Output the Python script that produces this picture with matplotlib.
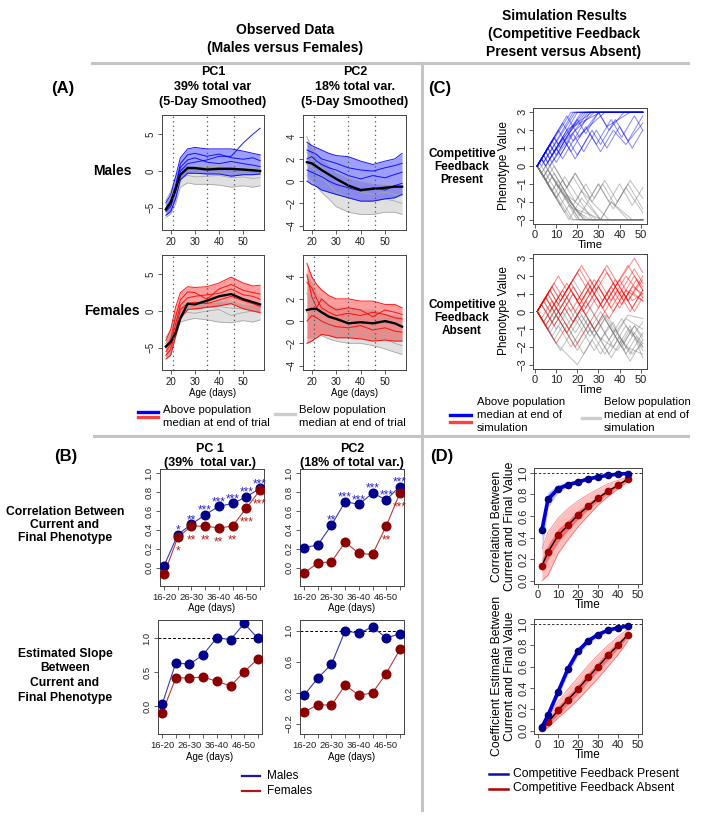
import matplotlib
matplotlib.use("Agg")
import matplotlib.pyplot as plt
from matplotlib.lines import Line2D

plt.rcParams["font.family"] = ["Liberation Sans", "DejaVu Sans"]

FIG_W, FIG_H = 704, 816
NARROW = ["Liberation Sans Narrow", "Liberation Sans", "DejaVu Sans"]

BLUE = "#0000ff"
RED = "#ff0000"
GREY = "#a8a8a8"
NAVY = "#00008b"
DARKRED = "#8b0000"
RULE = "#c4c4c4"

AGE_GRID = [18, 20, 22, 24, 27, 30, 35, 40, 45, 50, 54, 57]
SPLIT_DAYS = [21, 35, 46]

# in every group the first two rows are the lower / upper envelope
PC1_MALE_ABOVE = [
    [-6.0, -5.5, -3.8, -1.2, -0.3, -0.3, -0.4, -0.4, -0.7, -0.5, -0.5, -0.4],
    [-4.3, -3.2, -0.8, 1.8, 3.0, 3.2, 3.0, 3.0, 3.0, 2.7, 2.4, 2.2],
    [-5.0, -4.0, -2.0, 0.5, 1.5, 1.8, 1.2, 1.0, 1.3, 1.0, 0.8, 0.6],
    [-5.5, -4.8, -2.8, 0.0, 1.0, 1.2, 1.5, 2.0, 2.0, 3.8, 5.0, 5.8],
    [-5.2, -4.4, -2.2, 1.0, 2.2, 2.4, 2.0, 2.3, 1.8, 1.6, 1.8, 1.4],
]
PC1_MALE_BELOW = [
    [-6.3, -5.8, -4.5, -2.2, -1.6, -1.8, -1.8, -1.9, -2.2, -2.0, -2.2, -2.0],
    [-4.0, -2.8, -0.8, 0.5, 0.8, 0.7, 0.6, 0.6, 0.4, 0.4, 0.3, 0.4],
    [-5.4, -4.6, -3.0, -1.0, -0.6, -0.8, -0.7, -0.6, -0.9, -0.8, -1.0, -0.9],
    [-4.6, -3.6, -1.6, -0.2, 0.2, -0.2, 0.0, -0.2, -0.3, -0.2, -0.4, -0.2],
]
PC1_MALE_MEDIAN = [-5.2, -4.3, -2.5, -0.5, 0.4, 0.4, 0.2, 0.3, 0.3, 0.2, 0.1, 0.0]

PC2_MALE_ABOVE = [
    [0.0, -0.3, -0.5, -0.8, -1.0, -1.2, -1.5, -1.8, -1.8, -1.6, -1.5, -1.2],
    [3.5, 3.2, 3.0, 2.8, 2.5, 2.3, 2.2, 1.8, 1.5, 1.8, 2.0, 2.5],
    [2.0, 2.2, 1.8, 1.5, 1.2, 1.0, 0.5, 0.2, 0.5, 0.3, 0.6, 0.8],
    [1.0, 0.8, 0.6, 0.4, 0.0, -0.3, -0.6, -0.9, -0.6, -0.8, -0.4, -0.2],
    [2.8, 2.6, 2.4, 2.0, 1.8, 1.6, 1.2, 1.0, 0.9, 1.2, 1.4, 1.6],
]
PC2_MALE_BELOW = [
    [0.5, 0.0, -0.5, -1.0, -1.6, -2.3, -2.8, -3.0, -3.0, -2.8, -2.8, -3.0],
    [4.0, 3.0, 2.5, 2.0, 1.5, 0.8, 0.3, 0.0, -0.2, -0.3, -0.4, -0.5],
    [1.5, 1.2, 0.8, 0.3, -0.3, -1.0, -1.5, -1.8, -1.8, -1.6, -1.8, -2.0],
    [2.6, 2.0, 1.6, 1.2, 0.6, 0.0, -0.6, -1.0, -1.2, -1.0, -1.2, -1.3],
]
PC2_MALE_MEDIAN = [1.7, 1.6, 1.3, 1.0, 0.6, 0.2, -0.4, -0.8, -0.7, -0.6, -0.5, -0.5]

PC1_FEMALE_ABOVE = [
    [-6.5, -6.0, -3.5, -1.0, 0.2, 0.3, 0.5, 0.7, 1.0, 0.3, 0.0, -0.2],
    [-4.0, -2.5, 0.5, 2.5, 3.3, 3.2, 3.3, 3.8, 4.6, 3.8, 3.4, 3.5],
    [-5.5, -4.5, -1.8, 0.8, 1.8, 2.0, 2.2, 2.4, 3.0, 2.2, 2.0, 1.6],
    [-5.0, -3.8, -0.8, 1.5, 2.6, 2.5, 1.6, 3.0, 3.6, 2.8, 2.5, 2.3],
    [-6.0, -5.2, -2.6, 0.2, 1.0, 1.2, 1.0, 1.5, 2.0, 1.4, 1.0, 0.6],
]
PC1_FEMALE_BELOW = [
    [-6.2, -5.6, -3.5, -1.5, -1.2, -1.0, -1.2, -1.5, -1.6, -1.3, -1.5, -1.2],
    [-3.6, -2.5, -0.5, 0.8, 1.0, 0.8, 1.0, 1.2, 1.2, 0.8, 0.8, 0.7],
    [-5.0, -4.2, -2.0, -0.5, -0.2, -0.3, 0.0, 0.2, -0.6, -0.2, 0.0, -0.3],
    [-4.4, -3.4, -1.2, 0.2, 0.4, 0.2, 0.5, 0.6, 0.4, 0.3, 0.4, 0.2],
]
PC1_FEMALE_MEDIAN = [-4.8, -4.2, -3.0, -1.0, 1.0, 0.9, 1.4, 2.0, 2.3, 1.6, 1.2, 0.9]

PC2_FEMALE_ABOVE = [
    [-2.0, -1.8, -1.5, -1.2, -1.3, -1.5, -1.5, -1.6, -1.8, -1.7, -1.8, -1.8],
    [5.2, 4.0, 3.3, 2.8, 2.3, 2.0, 2.0, 1.8, 1.8, 1.5, 1.5, 1.2],
    [3.5, 3.0, 2.0, 1.2, 0.8, 0.5, 0.7, 0.5, 0.8, 0.6, 0.3, 0.2],
    [0.0, 0.5, 0.3, 0.0, -0.3, -0.5, -0.6, -0.4, -0.8, -0.6, -0.9, -1.0],
    [4.2, 2.2, 1.2, 2.0, 1.4, 1.0, 1.2, 1.0, 0.4, 1.0, 0.8, 0.6],
]
PC2_FEMALE_BELOW = [
    [-1.5, -1.5, -1.3, -1.3, -1.6, -1.8, -2.0, -2.0, -2.2, -2.5, -2.8, -3.0],
    [4.0, 3.5, 2.5, 2.0, 1.5, 1.2, 1.2, 1.0, 1.0, 0.6, 0.5, 0.4],
    [2.5, 1.8, 1.0, 0.4, -0.2, -0.5, -0.6, -0.8, -0.6, -1.0, -1.4, -1.6],
    [0.8, 0.6, 0.2, -0.2, -0.6, -1.0, -1.2, -1.1, -1.4, -1.6, -2.0, -2.2],
]
PC2_FEMALE_MEDIAN = [1.0, 1.1, 1.1, 0.8, 0.4, 0.2, -0.2, -0.1, -0.2, 0.0, -0.2, -0.5]

# ---- Panel B: correlation / slope between current and final phenotype ----
AGE_BINS = ["16-20", "21-25", "26-30", "31-35", "36-40", "41-45", "46-50", "51-55"]
CORR_PC1_MALES = [0.02, 0.35, 0.46, 0.56, 0.65, 0.68, 0.75, 0.84]
CORR_PC1_FEMALES = [-0.07, 0.32, 0.44, 0.44, 0.42, 0.44, 0.63, 0.82]
CORR_PC2_MALES = [0.21, 0.24, 0.45, 0.70, 0.67, 0.79, 0.72, 0.86]
CORR_PC2_FEMALES = [-0.06, 0.05, 0.06, 0.27, 0.15, 0.14, 0.44, 0.79]
STARS_PC1_MALES = ["", "*", "**", "***", "***", "***", "***", "***"]
STARS_PC1_FEMALES = ["", "*", "**", "**", "**", "**", "***", "***"]
STARS_PC2_MALES = ["", "", "**", "***", "***", "***", "***", "***"]
STARS_PC2_FEMALES = ["", "", "", "", "", "", "**", "***"]
SLOPE_PC1_MALES = [0.03, 0.64, 0.62, 0.76, 1.01, 0.98, 1.22, 1.00]
SLOPE_PC1_FEMALES = [-0.10, 0.42, 0.42, 0.43, 0.37, 0.30, 0.51, 0.70]
SLOPE_PC2_MALES = [0.17, 0.39, 0.57, 1.00, 0.97, 1.05, 0.91, 0.96]
SLOPE_PC2_FEMALES = [-0.05, 0.05, 0.04, 0.30, 0.17, 0.20, 0.45, 0.76]

# ---- Panel C: simulated walks, as (times, values) at turning points ----
PRESENT_ABOVE = [
    ([1, 17, 51], [0, 3, 3]),
    ([1, 3, 4, 19, 51], [0, 0.4, 0.2, 3, 3]),
    ([1, 7, 9, 22, 51], [0, 1.2, 0.8, 3, 3]),
    ([1, 5, 8, 25, 51], [0, 0.8, 0.2, 3, 3]),
    ([1, 11, 14, 28, 51], [0, 2.0, 1.4, 3, 3]),
    ([1, 4, 6, 15, 18, 33, 51], [0, 0.6, 0.2, 2.0, 1.4, 3, 3]),
    ([1, 9, 12, 20, 24, 30, 35, 42, 51], [0, 1.6, 1.0, 2.6, 1.8, 3.0, 2.0, 3.0, 3.0]),
    ([1, 6, 10, 16, 20, 27, 31, 38, 44, 51], [0, 1.0, 0.2, 1.4, 0.6, 2.0, 1.2, 2.6, 1.4, 2.8]),
    ([1, 3, 5, 13, 17, 24, 29, 36, 41, 47, 51], [0, 0.4, 0, 1.6, 0.8, 2.2, 1.2, 2.6, 1.6, 2.8, 2.0]),
    ([1, 8, 12, 18, 23, 29, 34, 40, 46, 51], [0, 1.4, 0.6, 1.8, 0.8, 2.0, 1.0, 2.2, 1.0, 2.0]),
    ([1, 13, 15, 27, 51], [0, 2.4, 2.0, 3, 3]),
    ([1, 5, 7, 20, 51], [0, 0.8, 0.4, 3, 3]),
    ([1, 9, 11, 23, 51], [0, 1.6, 1.2, 3, 3]),
    ([1, 3, 5, 10, 13, 26, 51], [0, 0.4, 0, 1.0, 0.4, 3, 3]),
    ([1, 7, 10, 18, 21, 30, 34, 45, 51], [0, 1.2, 0.6, 2.2, 1.6, 3.0, 2.2, 3.0, 3.0]),
    ([1, 4, 7, 14, 19, 26, 31, 37, 43, 51], [0, 0.6, 0, 1.4, 0.4, 1.8, 0.8, 2.0, 1.2, 2.4]),
    ([1, 15, 18, 31, 51], [0, 2.8, 2.2, 3, 3]),
    ([1, 6, 8, 24, 51], [0, 1.0, 0.6, 3, 3]),
    ([1, 2, 3, 18, 51], [0, 0.2, 0, 3, 3]),
]
PRESENT_BELOW = [
    ([1, 17, 51], [0, -3, -3]),
    ([1, 4, 6, 20, 51], [0, -0.6, -0.2, -3, -3]),
    ([1, 8, 10, 23, 51], [0, -1.4, -1.0, -3, -3]),
    ([1, 3, 5, 21, 51], [0, -0.4, 0, -3, -3]),
    ([1, 12, 15, 29, 51], [0, -2.2, -1.6, -3, -3]),
    ([1, 6, 9, 18, 22, 35, 51], [0, -1.0, -0.4, -2.2, -1.4, -3, -3]),
    ([1, 10, 13, 21, 25, 31, 36, 44, 51], [0, -1.8, -1.2, -2.8, -2.0, -3.0, -2.0, -3.0, -3.0]),
    ([1, 5, 9, 15, 19, 26, 30, 37, 43, 51], [0, -0.8, 0, -1.2, -0.4, -1.8, -1.0, -2.4, -1.2, -2.6]),
    ([1, 4, 7, 14, 18, 25, 30, 35, 40, 46, 51], [0, -0.6, 0, -1.4, -0.6, -2.0, -1.0, -2.0, -1.0, -2.2, -1.2]),
    ([1, 9, 13, 19, 24, 28, 33, 39, 45, 51], [0, -1.6, -0.8, -2.0, -1.0, -1.8, -0.8, -2.0, -0.8, -1.8]),
    ([1, 14, 16, 26, 51], [0, -2.6, -2.2, -3, -3]),
    ([1, 6, 8, 21, 51], [0, -1.0, -0.6, -3, -3]),
    ([1, 10, 12, 24, 51], [0, -1.8, -1.4, -3, -3]),
    ([1, 3, 5, 11, 14, 27, 51], [0, -0.4, 0, -1.2, -0.6, -3, -3]),
    ([1, 8, 11, 19, 22, 31, 36, 46, 51], [0, -1.4, -0.8, -2.4, -1.8, -3.0, -2.0, -3.0, -3.0]),
    ([1, 4, 8, 15, 19, 27, 32, 38, 44, 51], [0, -0.6, 0.2, -1.2, -0.4, -2.0, -1.0, -2.2, -1.0, -2.4]),
    ([1, 16, 19, 32, 51], [0, -3.0, -2.4, -3, -3]),
    ([1, 5, 7, 23, 51], [0, -0.8, -0.4, -3, -3]),
    ([1, 2, 3, 18, 51], [0, -0.2, 0, -3, -3]),
]
ABSENT_ABOVE = [
    ([1, 9, 13, 20, 26, 33, 40, 47, 51], [0, 1.6, 0.8, 2.2, 1.0, 2.4, 1.0, 2.4, 1.6]),
    ([1, 5, 10, 16, 22, 30, 36, 43, 51], [0, -0.8, 0.2, -1.0, 0.2, 1.8, 0.6, 2.0, 0.8]),
    ([1, 6, 11, 17, 24, 29, 35, 42, 46, 51], [0, 1.0, 0, 1.2, -0.2, 0.8, -0.4, 1.0, 0.2, 1.2]),
    ([1, 4, 12, 17, 25, 32, 38, 47, 51], [0, -0.6, 1.0, 0, 1.6, 0.2, 1.4, 3.0, 2.2]),
    ([1, 3, 9, 14, 18, 27, 31, 38, 44, 51], [0, 0.4, -0.8, 0.2, -0.6, 1.2, 0.4, 1.8, 0.6, 2.0]),
    ([1, 10, 14, 19, 23, 28, 35, 40, 45, 51], [0, -1.8, -1.0, -2.0, -1.2, -0.2, 1.2, 0.2, 1.2, 0.6]),
    ([1, 8, 12, 21, 27, 34, 39, 44, 51], [0, 1.4, 0.6, 2.4, 1.2, 2.6, 1.6, 2.6, 1.2]),
    ([1, 5, 8, 15, 20, 26, 32, 37, 42, 48, 51], [0, 0.8, 0.2, 1.6, 0.6, 1.8, 0.6, 1.6, 0.6, 1.8, 1.2]),
    ([1, 7, 12, 18, 24, 30, 36, 41, 47, 51], [0, 1.2, 0.2, 1.4, 0.2, 1.4, 0.2, 1.2, 0.0, 0.8]),
    ([1, 4, 7, 13, 19, 25, 30, 36, 41, 46, 51], [0, 0.6, 0, 1.2, 0, 1.2, 0.2, 1.4, 0.4, 1.4, 1.0]),
    ([1, 6, 10, 15, 22, 28, 33, 39, 45, 51], [0, -1.0, -0.2, -1.2, 0.2, -1.0, 0.0, 1.2, 0.0, 1.2]),
    ([1, 11, 15, 22, 29, 34, 41, 47, 51], [0, 2.0, 1.2, 2.6, 1.2, 2.2, 0.8, 2.0, 1.4]),
    ([1, 3, 8, 12, 18, 23, 30, 37, 43, 51], [0, -0.4, 0.6, -0.2, 1.0, 0.0, 1.4, 0.0, 1.2, 0.6]),
    ([1, 7, 11, 16, 21, 26, 32, 39, 44, 51], [0, 1.2, 0.4, 1.4, 0.4, 1.4, 0.2, 1.6, 0.6, 1.8]),
    ([1, 5, 9, 17, 22, 28, 34, 40, 46, 51], [0, 0.8, 0.0, 1.6, 0.6, 1.8, 0.6, 1.8, 0.6, 1.0]),
]
ABSENT_BELOW = [
    ([1, 9, 14, 20, 26, 30, 36, 41, 45, 51], [0, -1.6, -0.6, -1.8, -0.6, -1.4, -2.6, -1.6, -2.4, -1.2]),
    ([1, 5, 10, 20, 26, 33, 38, 45, 51], [0, 0.8, -0.2, -2.2, -1.0, -2.4, -1.4, -2.8, -1.6]),
    ([1, 10, 20, 27, 31, 38, 43, 51], [0, -1.8, -3.0, -1.6, -2.4, -1.0, -2.0, -2.4]),
    ([1, 6, 12, 18, 23, 29, 34, 42, 47, 51], [0, 1.0, -0.2, 1.0, 0, -1.2, -0.2, -1.8, -0.8, -1.6]),
    ([1, 4, 8, 15, 21, 27, 33, 38, 44, 51], [0, -0.6, 0.2, -1.2, 0, -1.2, -0.2, -1.2, -0.2, -0.4]),
    ([1, 7, 13, 19, 24, 30, 39, 45, 51], [0, -1.2, 0, -1.2, -0.2, -1.4, -2.2, -1.0, -2.2]),
    ([1, 3, 10, 16, 22, 28, 35, 41, 47, 51], [0, 0.4, -1.0, 0.2, -1.0, -2.2, -0.8, -2.0, -0.8, -1.4]),
    ([1, 8, 11, 17, 25, 31, 37, 43, 48, 51], [0, -1.4, -0.8, -2.0, -0.4, -1.6, -0.6, -2.4, -1.4, -2.0]),
    ([1, 5, 9, 14, 19, 25, 31, 36, 42, 47, 51], [0, -0.8, 0.0, -1.0, 0.0, -1.2, 0.0, -1.0, -2.2, -1.2, -1.8]),
    ([1, 8, 12, 18, 24, 29, 35, 41, 46, 51], [0, 1.4, 0.6, 1.8, 0.6, -0.4, -1.6, -0.4, -1.4, -0.6]),
    ([1, 6, 11, 17, 22, 28, 33, 40, 45, 51], [0, -1.0, 0, -1.2, -0.2, -1.4, -0.4, -1.8, -0.8, -2.6]),
    ([1, 4, 9, 15, 20, 26, 32, 38, 43, 51], [0, 0.6, -0.4, 0.8, -0.2, -1.4, -0.2, -1.4, -0.4, -1.0]),
    ([1, 12, 17, 23, 29, 35, 40, 46, 51], [0, -2.2, -1.2, -2.4, -1.2, -2.4, -1.4, -2.4, -1.8]),
    ([1, 3, 8, 13, 18, 24, 30, 37, 43, 51], [0, 0.4, -0.6, 0.4, -0.6, 0.6, -0.6, -2.0, -0.8, -2.0]),
]

# ---- Panel D: correlation / coefficient over simulated time ----
SIM_TIMES = [2, 5, 10, 15, 20, 25, 30, 35, 40, 45]
CORR_PRESENT = [0.475, 0.756, 0.853, 0.89, 0.915, 0.944, 0.962, 0.978, 0.988, 0.994]
CORR_PRESENT_OUTER = ([0.28, 0.68, 0.82, 0.87, 0.90, 0.93, 0.95, 0.97, 0.98, 0.99],
                      [0.55, 0.82, 0.89, 0.915, 0.935, 0.955, 0.972, 0.985, 0.993, 0.998])
CORR_PRESENT_INNER = ([0.42, 0.73, 0.84, 0.88, 0.91, 0.94, 0.96, 0.975, 0.985, 0.992],
                      [0.52, 0.78, 0.87, 0.90, 0.925, 0.95, 0.967, 0.982, 0.99, 0.996])
CORR_ABSENT = [0.14, 0.265, 0.42, 0.515, 0.61, 0.69, 0.765, 0.83, 0.885, 0.945]
CORR_ABSENT_OUTER = ([0.0, 0.05, 0.25, 0.38, 0.50, 0.60, 0.70, 0.78, 0.85, 0.92],
                     [0.30, 0.45, 0.58, 0.67, 0.74, 0.80, 0.85, 0.90, 0.93, 0.965])
CORR_ABSENT_INNER = ([0.08, 0.20, 0.36, 0.47, 0.57, 0.66, 0.74, 0.81, 0.87, 0.935],
                     [0.20, 0.33, 0.48, 0.56, 0.65, 0.72, 0.79, 0.85, 0.90, 0.955])
COEF_PRESENT = [0.037, 0.146, 0.363, 0.58, 0.745, 0.84, 0.90, 0.94, 0.963, 0.98]
COEF_PRESENT_OUTER = ([0.01, 0.11, 0.32, 0.53, 0.71, 0.81, 0.88, 0.925, 0.95, 0.97],
                      [0.06, 0.19, 0.41, 0.63, 0.78, 0.87, 0.92, 0.955, 0.975, 0.99])
COEF_PRESENT_INNER = ([0.025, 0.13, 0.345, 0.565, 0.73, 0.83, 0.89, 0.933, 0.957, 0.975],
                      [0.05, 0.16, 0.38, 0.595, 0.76, 0.85, 0.91, 0.947, 0.969, 0.985])
COEF_ABSENT = [0.03, 0.078, 0.19, 0.29, 0.39, 0.50, 0.60, 0.705, 0.80, 0.90]
COEF_ABSENT_OUTER = ([0.0, 0.03, 0.12, 0.20, 0.29, 0.39, 0.49, 0.60, 0.71, 0.84],
                     [0.06, 0.13, 0.27, 0.39, 0.50, 0.61, 0.71, 0.80, 0.88, 0.95])
COEF_ABSENT_INNER = ([0.015, 0.055, 0.15, 0.25, 0.35, 0.46, 0.56, 0.665, 0.77, 0.88],
                     [0.045, 0.10, 0.23, 0.33, 0.43, 0.54, 0.64, 0.745, 0.83, 0.92])


fig = plt.figure(figsize=(FIG_W / 100, FIG_H / 100), dpi=100)


def px_axes(left, top, right, bottom):
    return fig.add_axes([left / FIG_W, 1 - bottom / FIG_H,
                         (right - left) / FIG_W, (bottom - top) / FIG_H])


def ftext(x, y, s, **kw):
    kw.setdefault("ha", "center")
    kw.setdefault("va", "center")
    fig.text(x / FIG_W, 1 - y / FIG_H, s, **kw)


def stack(x, ys, lines, **kw):
    for y, s in zip(ys, lines):
        ftext(x, y, s, **kw)


def fline(x0, x1, y0, y1, **kw):
    fig.add_artist(Line2D([x0 / FIG_W, x1 / FIG_W], [1 - y0 / FIG_H, 1 - y1 / FIG_H], **kw))


def r_style(ax, size, pad=1.5):
    for spine in ax.spines.values():
        spine.set_linewidth(0.7)
        spine.set_color("#444444")
    ax.tick_params(direction="out", length=3.2, width=0.6, labelsize=size,
                   pad=pad, colors="#444444", labelcolor="#222222")
    ax.tick_params(axis="y", labelrotation=90)
    for lab in ax.get_yticklabels():
        lab.set_va("center")


def draw_trajectories(ax, above, below, median, color, ylim, yticks):
    ax.fill_between(AGE_GRID, below[0], below[1], color=GREY, alpha=0.35, lw=0)
    for ys in below:
        ax.plot(AGE_GRID, ys, color=GREY, lw=0.6)
    ax.fill_between(AGE_GRID, above[0], above[1], color=color, alpha=0.38, lw=0)
    for ys in above:
        ax.plot(AGE_GRID, ys, color=color, lw=0.7, alpha=0.9)
    ax.plot(AGE_GRID, median, color="black", lw=1.7)
    for day in SPLIT_DAYS:
        ax.axvline(day, color="#555555", lw=0.9, ls=(0, (1, 2.6)))
    ax.set_xlim(16.4, 58.6)
    ax.set_ylim(*ylim)
    ax.set_xticks([20, 30, 40, 50])
    ax.set_yticks(yticks)
    r_style(ax, 7)


def draw_walks(ax, above, below, color):
    for t, v in below:
        ax.plot(t, v, color="#7a7a7a", lw=0.75, alpha=0.45)
    for t, v in above:
        ax.plot(t, v, color=color, lw=0.75, alpha=0.45)
    ax.set_xlim(-1, 53)
    ax.set_ylim(-3.24, 3.24)
    ax.set_xticks([0, 10, 20, 30, 40, 50])
    ax.set_yticks([-3, -2, -1, 0, 1, 2, 3])
    r_style(ax, 8, pad=1)


def draw_bins(ax, males, females, ylim, yticks, stars=None, ref_line=False):
    xs = list(range(1, len(AGE_BINS) + 1))
    if ref_line:
        ax.axhline(1.0, color="black", lw=0.7, ls=(0, (3, 2)))
    ax.plot(xs, males, color="#3a3ab8", lw=0.8)
    ax.plot(xs, females, color="#b83a3a", lw=0.8)
    ax.plot(xs, males, "o", color=NAVY, ms=6.2, zorder=3)
    ax.plot(xs, females, "o", color=DARKRED, ms=6.2, zorder=3)
    if stars:
        for x, y, s in zip(xs, males, stars[0]):
            ax.text(x, y + 0.045, s, ha="center", va="center", color="#2a2acc", fontsize=8.5)
        for x, y, s in zip(xs, females, stars[1]):
            ax.text(x, y - 0.15, s, ha="center", va="center", color="#b52222", fontsize=8.5)
    ax.set_xlim(0.7, 8.3)
    ax.set_ylim(*ylim)
    ax.set_xticks(xs, [lab if i % 2 == 0 else "" for i, lab in enumerate(AGE_BINS)])
    ax.set_yticks(yticks)
    r_style(ax, 6.8)


def draw_sim_curves(ax, present, p_outer, p_inner, absent, a_outer, a_inner):
    ax.axhline(1.0, color="#333333", lw=0.7, ls=(0, (2.5, 2)))
    ax.fill_between(SIM_TIMES, a_outer[0], a_outer[1], color="#ff2a2a", alpha=0.3, lw=0)
    ax.fill_between(SIM_TIMES, a_inner[0], a_inner[1], color="#ff1a1a", alpha=0.5, lw=0)
    for ys in a_outer:
        ax.plot(SIM_TIMES, ys, color="#ff4040", lw=0.5, alpha=0.7)
    ax.fill_between(SIM_TIMES, p_outer[0], p_outer[1], color="#3030ff", alpha=0.3, lw=0)
    ax.fill_between(SIM_TIMES, p_inner[0], p_inner[1], color="#2020ff", alpha=0.5, lw=0)
    ax.plot(SIM_TIMES, absent, color="black", lw=1.0)
    ax.plot(SIM_TIMES, absent, "o", color="#a00000", ms=4.5)
    ax.plot(SIM_TIMES, present, color="#0000dd", lw=2.6)
    ax.plot(SIM_TIMES, present, "o", color="#00008b", ms=4.5)
    ax.set_xlim(-2, 52)
    ax.set_ylim(-0.03, 1.045)
    ax.set_xticks([0, 10, 20, 30, 40, 50])
    ax.set_yticks([0.0, 0.2, 0.4, 0.6, 0.8, 1.0])
    ax.set_yticklabels(["0.0", "0.2", "0.4", "0.6", "0.8", "1.0"])
    r_style(ax, 8, pad=1)


def main():
    # section rules and headers
    fline(92, 688, 63, 63, color=RULE, lw=2.2)
    fline(422, 422, 63, 810, color=RULE, lw=2.2)
    fline(94, 688, 436, 436, color=RULE, lw=2.2)
    bold_narrow = dict(family=NARROW, fontweight="bold")
    stack(285, [30, 48], ["Observed Data", "(Males versus Females)"], fontsize=10, **bold_narrow)
    stack(564, [16, 34, 52], ["Simulation Results", "(Competitive Feedback",
                              "Present versus Absent)"], fontsize=10, **bold_narrow)

    # panel A
    ftext(63, 88, "(A)", fontsize=12, **bold_narrow)
    stack(213, [72, 87, 102], ["PC1", "39% total var", "(5-Day Smoothed)"], fontsize=9, **bold_narrow)
    stack(355, [72, 87, 102], ["PC2", "18% total var.", "(5-Day Smoothed)"], fontsize=9, **bold_narrow)
    ftext(112, 171, "Males", fontsize=10, fontweight="bold")
    ftext(112, 311, "Females", fontsize=10, fontweight="bold")

    draw_trajectories(px_axes(162, 115, 264, 230), PC1_MALE_ABOVE, PC1_MALE_BELOW,
                      PC1_MALE_MEDIAN, BLUE, (-8, 7.6), [-5, 0, 5])
    draw_trajectories(px_axes(303, 115, 406, 230), PC2_MALE_ABOVE, PC2_MALE_BELOW,
                      PC2_MALE_MEDIAN, BLUE, (-4.4, 5.95), [-4, -2, 0, 2, 4])
    draw_trajectories(px_axes(162, 255, 264, 370), PC1_FEMALE_ABOVE, PC1_FEMALE_BELOW,
                      PC1_FEMALE_MEDIAN, RED, (-8, 7.6), [-5, 0, 5])
    draw_trajectories(px_axes(303, 255, 406, 370), PC2_FEMALE_ABOVE, PC2_FEMALE_BELOW,
                      PC2_FEMALE_MEDIAN, RED, (-4.4, 5.95), [-4, -2, 0, 2, 4])
    ftext(213, 393, "Age (days)", fontsize=7)
    ftext(355, 393, "Age (days)", fontsize=7)

    fline(138, 158, 411.5, 411.5, color=BLUE, lw=2.4)
    fline(138, 158, 417, 417, color="#ff4040", lw=2.4)
    stack(163, [410, 423], ["Above population", "median at end of trial"], fontsize=8.2, ha="left")
    fline(275, 295, 414, 414, color="#cccccc", lw=2.4)
    stack(299, [410, 423], ["Below population", "median at end of trial"], fontsize=8.2, ha="left")

    # panel C
    ftext(440, 88, "(C)", fontsize=12, **bold_narrow)
    stack(462, [154, 167, 180], ["Competitive", "Feedback", "Present"], fontsize=8.5, fontweight="bold")
    stack(462, [305, 318, 331], ["Competitive", "Feedback", "Absent"], fontsize=8.5, fontweight="bold")
    draw_walks(px_axes(533, 108, 647, 224), PRESENT_ABOVE, PRESENT_BELOW, BLUE)
    draw_walks(px_axes(533, 254, 647, 369), ABSENT_ABOVE, ABSENT_BELOW, RED)
    ftext(504, 166, "Phenotype Value", fontsize=8.5, rotation=90)
    ftext(504, 311, "Phenotype Value", fontsize=8.5, rotation=90)
    ftext(590, 245, "Time", fontsize=8.2)
    ftext(590, 390, "Time", fontsize=8.2)

    fline(450, 471, 415, 415, color=BLUE, lw=2.4)
    fline(450, 471, 421.5, 421.5, color="#ff4040", lw=2.4)
    stack(477, [402, 415, 428], ["Above population", "median at end of", "simulation"],
          fontsize=8.2, ha="left")
    fline(582, 600, 418, 418, color="#cccccc", lw=2.4)
    stack(604, [402, 415, 428], ["Below population", "median at end of", "simulation"],
          fontsize=8.2, ha="left")

    # panel B
    ftext(66, 456, "(B)", fontsize=12, **bold_narrow)
    stack(210, [449, 463], ["PC 1", "(39%  total var.)"], fontsize=9, **bold_narrow)
    stack(352, [449, 463], ["PC2", "(18% of total var.)"], fontsize=9, **bold_narrow)
    stack(65, [512, 525, 538], ["Correlation Between", "Current and", "Final Phenotype"],
          fontsize=8.7, fontweight="bold")
    stack(65, [654, 668, 683, 698], ["Estimated Slope", "Between", "Current and", "Final Phenotype"],
          fontsize=8.7, fontweight="bold")

    draw_bins(px_axes(160, 469, 264, 586), CORR_PC1_MALES, CORR_PC1_FEMALES,
              (-0.196, 1.046), [0.0, 0.2, 0.4, 0.6, 0.8, 1.0],
              stars=(STARS_PC1_MALES, STARS_PC1_FEMALES))
    draw_bins(px_axes(300, 469, 404, 586), CORR_PC2_MALES, CORR_PC2_FEMALES,
              (-0.196, 1.046), [0.0, 0.2, 0.4, 0.6, 0.8, 1.0],
              stars=(STARS_PC2_MALES, STARS_PC2_FEMALES))
    draw_bins(px_axes(158, 620, 262, 734), SLOPE_PC1_MALES, SLOPE_PC1_FEMALES,
              (-0.405, 1.27), [0.0, 0.5, 1.0], ref_line=True)
    draw_bins(px_axes(300, 620, 404, 734), SLOPE_PC2_MALES, SLOPE_PC2_FEMALES,
              (-0.33, 1.14), [-0.2, 0.2, 0.6, 1.0], ref_line=True)
    for x, y in [(212, 608), (352, 608), (210, 757), (352, 757)]:
        ftext(x, y, "Age (days)", fontsize=7)

    fline(242, 260, 776, 776, color="#1a1a99", lw=1.6)
    fline(242, 260, 790.5, 790.5, color="#aa1a1a", lw=1.6)
    ftext(267, 776, "Males", fontsize=8.5, ha="left")
    ftext(267, 790.5, "Females", fontsize=8.5, ha="left")

    # panel D
    ftext(442, 456, "(D)", fontsize=12, **bold_narrow)
    draw_sim_curves(px_axes(534, 468, 642, 584), CORR_PRESENT, CORR_PRESENT_OUTER,
                    CORR_PRESENT_INNER, CORR_ABSENT, CORR_ABSENT_OUTER, CORR_ABSENT_INNER)
    draw_sim_curves(px_axes(534, 619, 642, 734), COEF_PRESENT, COEF_PRESENT_OUTER,
                    COEF_PRESENT_INNER, COEF_ABSENT, COEF_ABSENT_OUTER, COEF_ABSENT_INNER)
    ftext(497, 526, "Correlation Between", fontsize=8.8, rotation=90)
    ftext(510, 526, "Current and Final Value", fontsize=8.8, rotation=90)
    ftext(497, 676, "Coefficient Estimate Between", fontsize=8.8, rotation=90)
    ftext(510, 676, "Current and Final Value", fontsize=8.8, rotation=90)
    ftext(588, 605, "Time", fontsize=8.5)
    ftext(588, 755, "Time", fontsize=8.5)

    fline(489, 508, 774, 774, color="#1010a0", lw=1.8)
    fline(489, 508, 788.5, 788.5, color="#b00000", lw=1.8)
    ftext(513, 774, "Competitive Feedback Present", fontsize=8.7, ha="left")
    ftext(513, 788.5, "Competitive Feedback Absent", fontsize=8.7, ha="left")

    fig.savefig("out.png", dpi=100)


if __name__ == "__main__":
    main()
